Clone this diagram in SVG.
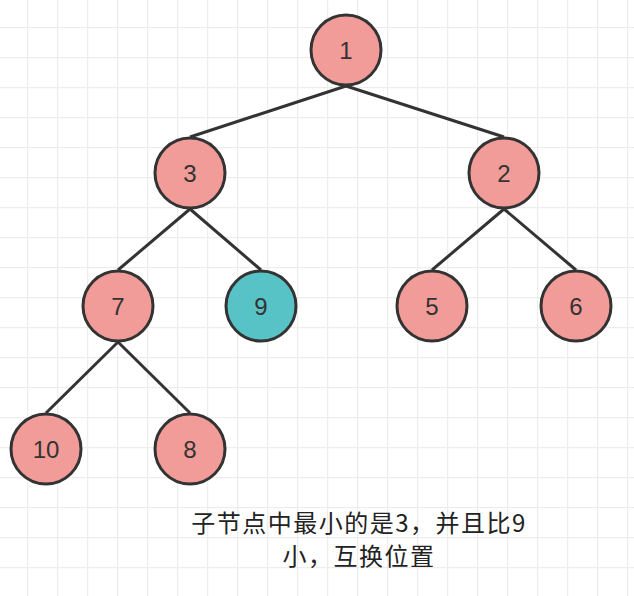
<svg xmlns="http://www.w3.org/2000/svg" width="634" height="596" viewBox="0 0 634 596">
  <defs>
    <pattern id="grid" x="27" y="27" width="30" height="30" patternUnits="userSpaceOnUse">
      <path d="M0 0.5 H30 M0.5 0 V30" fill="none" stroke="#ededed" stroke-width="1.5"/>
    </pattern>
    <style>
      .node circle { fill: #F19C99; stroke: #333333; stroke-width: 3; }
      .node.hl circle { fill: #57C3C7; }
      .node text { font-family: "Liberation Sans", Arial, sans-serif; font-size: 24px; fill: #333333; text-anchor: middle; }
      .edge { stroke: #333333; stroke-width: 3; fill: none; }
      .note { font-family: "Noto Sans CJK SC", "Noto Sans", sans-serif; font-size: 24px; letter-spacing: 1.5px; fill: #222222; text-anchor: middle; }
    </style>
  </defs>
  <rect width="634" height="596" fill="#ffffff"/>
  <rect width="634" height="596" fill="url(#grid)"/>

  <g id="connectors">
    <line class="edge" x1="346" y1="86" x2="190" y2="137"/>
    <line class="edge" x1="346" y1="86" x2="504" y2="137"/>
    <line class="edge" x1="190" y1="209" x2="118" y2="270"/>
    <line class="edge" x1="190" y1="209" x2="261" y2="270"/>
    <line class="edge" x1="504" y1="209" x2="432" y2="270"/>
    <line class="edge" x1="504" y1="209" x2="576" y2="270"/>
    <line class="edge" x1="118" y1="342" x2="46" y2="413"/>
    <line class="edge" x1="118" y1="342" x2="190" y2="413"/>
  </g>

  <g id="node-1" class="node"><circle cx="346" cy="50" r="35"/><text x="346" y="59">1</text></g>
  <g id="node-3" class="node"><circle cx="190" cy="173" r="35"/><text x="190" y="182">3</text></g>
  <g id="node-2" class="node"><circle cx="504" cy="173" r="35"/><text x="504" y="182">2</text></g>
  <g id="node-7" class="node"><circle cx="118" cy="306" r="35"/><text x="118" y="315">7</text></g>
  <g id="node-9" class="node hl"><circle cx="261" cy="306" r="35"/><text x="261" y="315">9</text></g>
  <g id="node-5" class="node"><circle cx="432" cy="306" r="35"/><text x="432" y="315">5</text></g>
  <g id="node-6" class="node"><circle cx="576" cy="306" r="35"/><text x="576" y="315">6</text></g>
  <g id="node-10" class="node"><circle cx="46" cy="449" r="35"/><text x="46" y="458">10</text></g>
  <g id="node-8" class="node"><circle cx="190" cy="449" r="35"/><text x="190" y="458">8</text></g>

  <g id="note">
    <text class="note" x="359" y="532">子节点中最小的是3，并且比9</text>
    <text class="note" x="359" y="565">小，互换位置</text>
  </g>
</svg>
